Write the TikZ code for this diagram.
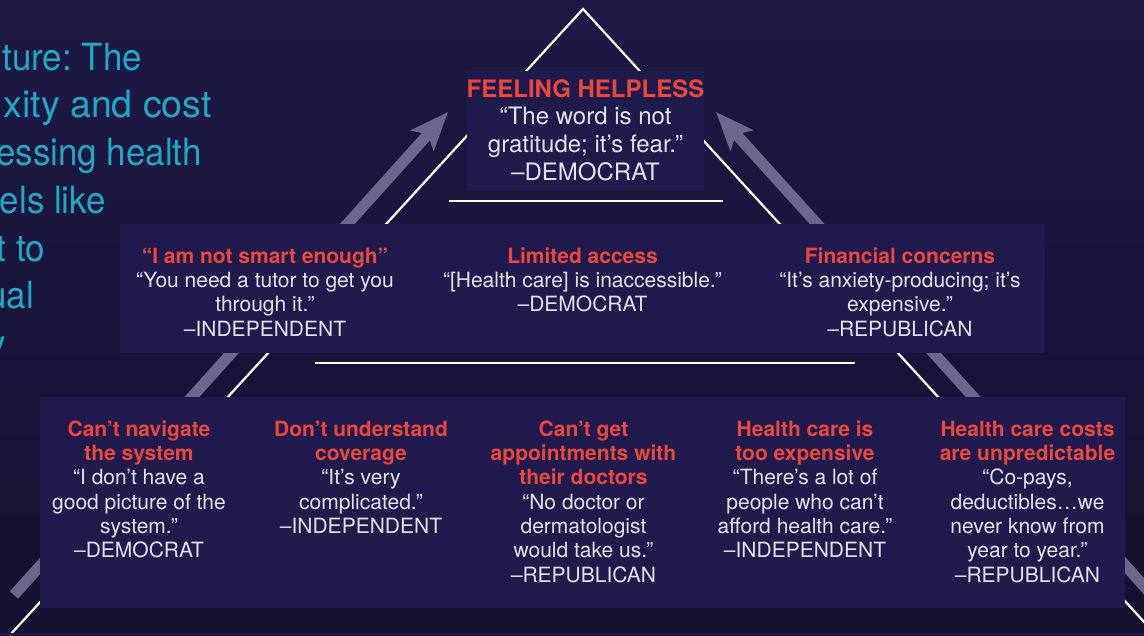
\documentclass[tikz,border=0pt]{standalone}
\usepackage{fontspec}
\usepackage{graphicx}
\setmainfont{TeX Gyre Heros}
\frenchspacing
\usetikzlibrary{arrows.meta}
\definecolor{bgtop}{RGB}{29,25,68}
\definecolor{bgbot}{RGB}{21,17,46}
\definecolor{boxc}{RGB}{33,27,77}
\definecolor{hred}{RGB}{232,72,62}
\definecolor{qwhite}{RGB}{228,226,238}
\definecolor{cyanx}{RGB}{32,168,200}
\definecolor{agray}{RGB}{108,104,140}
\tikzset{
  panel/.style={fill=boxc, draw=none},
  tri/.style={draw=white, line width=2.2pt},
  bar/.style={draw=white, line width=2.6pt},
  bigarrow/.style={draw=agray, line width=11pt, -{Stealth[length=38pt,width=30pt,inset=8pt]}},
  quote/.style={align=center, inner sep=0pt, anchor=north, text=qwhite, font=\fontsize{21}{24.3}\selectfont},
  topquote/.style={quote, font=\fontsize{24}{27.7}\selectfont},
  lead/.style={anchor=base east, inner sep=0pt, text=cyanx, font=\fontsize{37.5}{47.8}\selectfont},
}
\newcommand{\hd}[1]{\textcolor{hred}{\bfseries #1}}
\newcommand{\fs}{\rule{0pt}{17pt}}
\newcommand{\fst}{\rule{0pt}{19pt}}
\newcommand{\ld}[1]{\scalebox{0.93}[1]{#1}}
\begin{document}
\begin{tikzpicture}[x=1pt,y=-1pt]
\useasboundingbox (0,0) rectangle (1144,635);
\shade[top color=bgtop, bottom color=bgbot] (0,0) rectangle (1144,635);

% lead text (cut off at left)
\node[lead] (l1) at (142,70) {\ld{ture: The}};
\node[lead] (l2) at (212,117) {xity and cost};
\node[lead] (l3) at (202,165) {\ld{essing health}};
\node[lead] (l4) at (106,213) {\ld{els like}};
\node[lead] (l5) at (45,261) {\ld{t to}};
\node[lead] (l6) at (34,308) {\ld{ual}};
\node[lead] (l7) at (6,356) {\ld{y}};

% pyramid outline
\coordinate (apex) at (583,9);
\coordinate (bl) at (10,635);
\coordinate (br) at (1156,635);
\draw[tri] (bl) -- (apex) -- (br);
\coordinate (b1l) at (449,201);
\coordinate (b1r) at (723,201);
\coordinate (b2l) at (315,363);
\coordinate (b2r) at (855,363);
\draw[bar] (b1l) -- (b1r);
\draw[bar] (b2l) -- (b2r);

% big arrows
\coordinate (la0) at (14,595);
\coordinate (la1) at (448,112);
\coordinate (ra0) at (1152,595);
\coordinate (ra1) at (716,112);
\draw[bigarrow] (la0) -- (la1);
\draw[bigarrow] (ra0) -- (ra1);

% panels
\fill[panel] (467,71) rectangle (704,191);
\fill[panel] (120,224) rectangle (1045,353);
\fill[panel] (40,397) rectangle (1125,608);
\fill[panel] (0,633) rectangle (1144,635);

% top
\node[topquote] (top) at (585.5,78) {\fst\hd{FEELING HELPLESS}\\“The word is not\\gratitude; it’s fear.”\\–DEMOCRAT};

% middle tier
\node[quote] (m1) at (265,246) {\fs\hd{“I am not smart enough”}\\“You need a tutor to get you\\through it.”\\–INDEPENDENT};
\node[quote] (m2) at (582.5,246) {\fs\hd{Limited access}\\“[Health care] is inaccessible.”\\–DEMOCRAT};
\node[quote] (m3) at (900,246) {\fs\hd{Financial concerns}\\“It’s anxiety-producing; it’s\\expensive.”\\–REPUBLICAN};

% bottom tier
\node[quote] (b1) at (139,419) {\fs\hd{Can’t navigate}\\\hd{the system}\\“I don’t have a\\good picture of the\\system.”\\–DEMOCRAT};
\node[quote] (b2) at (361,419) {\fs\hd{Don’t understand}\\\hd{coverage}\\“It’s very\\complicated.”\\–INDEPENDENT};
\node[quote] (b3) at (583.5,419) {\fs\hd{Can’t get}\\\hd{appointments with}\\\hd{their doctors}\\“No doctor or\\dermatologist\\would take us.”\\–REPUBLICAN};
\node[quote] (b4) at (805,419) {\fs\hd{Health care is}\\\hd{too expensive}\\“There’s a lot of\\people who can’t\\afford health care.”\\–INDEPENDENT};
\node[quote] (b5) at (1027.5,419) {\fs\hd{Health care costs}\\\hd{are unpredictable}\\“Co-pays,\\deductibles…we\\never know from\\year to year.”\\–REPUBLICAN};
\end{tikzpicture}
\end{document}
